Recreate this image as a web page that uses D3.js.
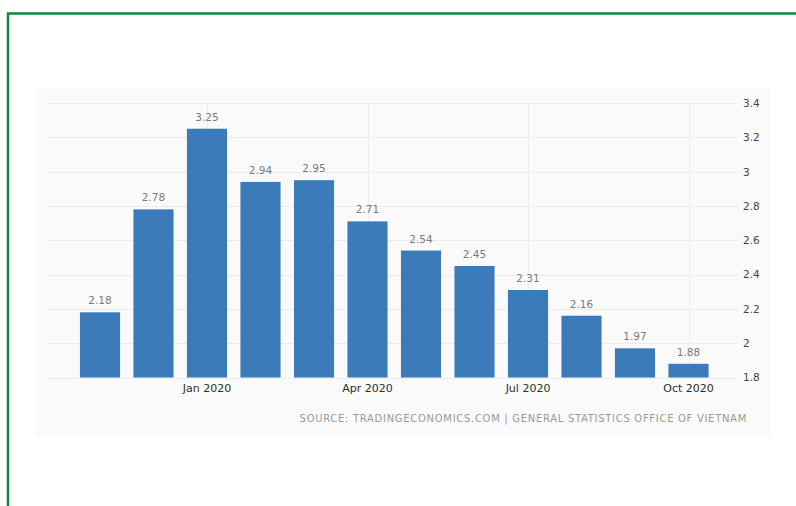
<!DOCTYPE html>
<html>
<head>
<meta charset="utf-8">
<script src="https://cdn.jsdelivr.net/npm/d3@7"></script>
<style>
  html, body { margin: 0; padding: 0; background: #ffffff; }
  svg { display: block; }
</style>
</head>
<body>
<svg id="chart" width="796" height="506"></svg>
<script>
// Monthly inflation rate, Vietnam (%, year on year)
const months = ["Nov 2019", "Dec 2019", "Jan 2020", "Feb 2020", "Mar 2020", "Apr 2020",
                "May 2020", "Jun 2020", "Jul 2020", "Aug 2020", "Sep 2020", "Oct 2020"];
const rates = [2.18, 2.78, 3.25, 2.94, 2.95, 2.71, 2.54, 2.45, 2.31, 2.16, 1.97, 1.88];
const monthTicks = ["Jan 2020", "Apr 2020", "Jul 2020", "Oct 2020"];
const rateTicks = [1.8, 2, 2.2, 2.4, 2.6, 2.8, 3, 3.2, 3.4];
const sourceNote = "SOURCE: TRADINGECONOMICS.COM | GENERAL STATISTICS OFFICE OF VIETNAM";

const svg = d3.select("#chart");
const font = "'DejaVu Sans', Verdana, sans-serif";

// green frame (open on the right and bottom edges)
svg.append("path")
  .attr("d", "M8,506 L8,13.5 L800,13.5")
  .attr("fill", "none")
  .attr("stroke", "#0b8a3e")
  .attr("stroke-width", 2.5);

// light panel behind the chart
svg.append("rect")
  .attr("x", 35).attr("y", 88)
  .attr("width", 735).attr("height", 349)
  .attr("fill", "#fafafa");

const x = d3.scaleBand()
  .domain(months)
  .range([73.25, 715.25])
  .paddingInner(0.25)
  .paddingOuter(0.125);

const y = d3.scaleLinear()
  .domain([1.8, 3.4])
  .range([377.5, 103]);

// horizontal grid
svg.append("g")
  .selectAll("line")
  .data(rateTicks)
  .join("line")
  .attr("x1", 47).attr("x2", 737)
  .attr("y1", d => Math.round(y(d)) + 0.5)
  .attr("y2", d => Math.round(y(d)) + 0.5)
  .attr("stroke", "#ececec")
  .attr("stroke-width", 1);

// vertical grid at quarter labels
svg.append("g")
  .selectAll("line")
  .data(monthTicks)
  .join("line")
  .attr("x1", d => Math.round(x(d) + x.bandwidth() / 2) + 0.5)
  .attr("x2", d => Math.round(x(d) + x.bandwidth() / 2) + 0.5)
  .attr("y1", y(3.4)).attr("y2", y(1.8))
  .attr("stroke", "#ededed")
  .attr("stroke-width", 1);

// bars
svg.append("g")
  .selectAll("rect")
  .data(months.map((m, i) => ({ m, v: rates[i] })))
  .join("rect")
  .attr("x", d => x(d.m))
  .attr("width", x.bandwidth())
  .attr("y", d => y(d.v))
  .attr("height", d => y(1.8) - y(d.v))
  .attr("fill", "#3b7bb9");

// value labels
svg.append("g")
  .selectAll("text")
  .data(months.map((m, i) => ({ m, v: rates[i] })))
  .join("text")
  .attr("x", d => x(d.m) + x.bandwidth() / 2)
  .attr("y", d => y(d.v) - 8)
  .attr("text-anchor", "middle")
  .attr("font-family", font)
  .attr("font-size", 10.5)
  .attr("fill", "#7a7a7a")
  .text(d => d.v.toFixed(2));

// x axis (quarter labels only)
const xAxis = svg.append("g")
  .attr("transform", `translate(0,${y(1.8)})`)
  .call(d3.axisBottom(x).tickValues(monthTicks).tickSize(0).tickPadding(7));
xAxis.select(".domain").remove();
xAxis.selectAll("text")
  .attr("font-family", font)
  .attr("font-size", 11)
  .attr("fill", "#2e2e2e");

// y axis on the right
const yAxis = svg.append("g")
  .attr("transform", "translate(743,0)")
  .call(d3.axisRight(y).tickValues(rateTicks).tickSize(0).tickPadding(0)
    .tickFormat(d3.format("~g")));
yAxis.select(".domain").remove();
yAxis.selectAll("text")
  .attr("font-family", font)
  .attr("font-size", 10.5)
  .attr("fill", "#444");

// source note
svg.append("text")
  .attr("x", 747).attr("y", 422)
  .attr("text-anchor", "end")
  .attr("font-family", font)
  .attr("font-size", 10)
  .attr("letter-spacing", 0.7)
  .attr("fill", "#9a9a9a")
  .text(sourceNote);
</script>
</body>
</html>
